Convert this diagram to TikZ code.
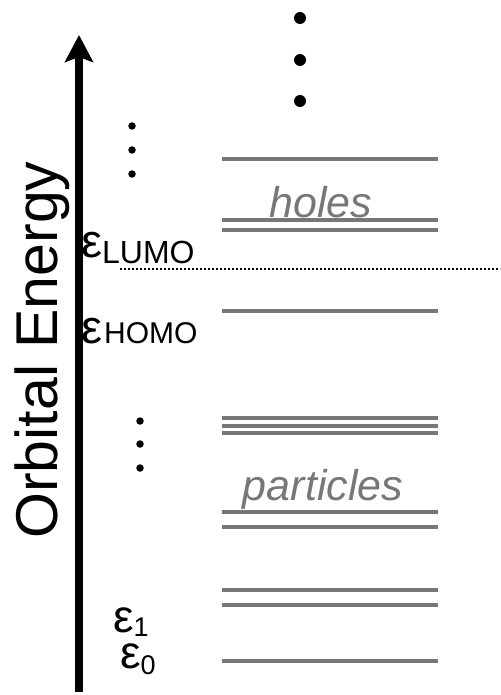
\documentclass[tikz,border=0pt]{standalone}
\usepackage{fontspec}
\setmainfont{Liberation Sans}
\usetikzlibrary{arrows.meta}
\definecolor{levelgray}{HTML}{777777}
\newcommand{\fsz}[1]{\fontsize{#1}{#1}\selectfont}
\begin{document}
\begin{tikzpicture}[x=1pt,y=-1pt,
  level/.style={draw=levelgray,line width=4pt},
  elabel/.style={anchor=base west,inner sep=0pt,text=black},
  region/.style={anchor=base,inner sep=0pt,text=levelgray,font=\fsz{43}\itshape},
  bigdot/.style={fill=black,circle,inner sep=0pt,minimum size=12pt},
  smalldot/.style={fill=black,circle,inner sep=0pt,minimum size=7.5pt}]
\useasboundingbox (0,0) rectangle (500,695);

% energy axis
\coordinate (axbot) at (79,692);
\coordinate (axtop) at (79,35);
\draw[line width=8.5pt,-{Stealth[length=27pt,width=28pt,inset=5pt]}] (axbot) -- (axtop);
\node[rotate=90,anchor=base,inner sep=0pt,font=\fsz{59}] (axlabel) at (57,350) {Orbital Energy};

% orbital levels
\foreach \y in {159,220,230,311,418,426,433,512,527,590,605,661}
  \draw[level] (222,\y) -- (438,\y);

% Fermi level
\coordinate (fl) at (120,269);
\coordinate (fr) at (500,269);
\draw[line width=1.6pt,dash pattern=on 1.8pt off 2.2pt] (fl) -- (fr);

% region labels
\node[region] (holes) at (321,217) {holes};
\node[region] (particles) at (323,500) {particles};

% energy labels
\node[elabel] (elumo) at (81,257) {\fsz{47}ε\raisebox{-6pt}{\fsz{32}LUMO}};
\node[elabel] (ehomo) at (81,343) {\fsz{47}ε\hspace{2pt}\fsz{30}HOMO};
\node[elabel] (eone) at (113,632) {\fsz{46}ε\raisebox{-4pt}{\fsz{27}1}};
\node[elabel] (ezero) at (120,668) {\fsz{46}ε\raisebox{-6pt}{\fsz{27}0}};

% continuation dots
\node[bigdot] (t1) at (300,18) {};
\node[bigdot] (t2) at (300,60) {};
\node[bigdot] (t3) at (300,101) {};
\node[smalldot] (u1) at (132,126) {};
\node[smalldot] (u2) at (132,150) {};
\node[smalldot] (u3) at (132,174) {};
\node[smalldot] (m1) at (140,421) {};
\node[smalldot] (m2) at (140,444) {};
\node[smalldot] (m3) at (140,468) {};
\end{tikzpicture}
\end{document}
